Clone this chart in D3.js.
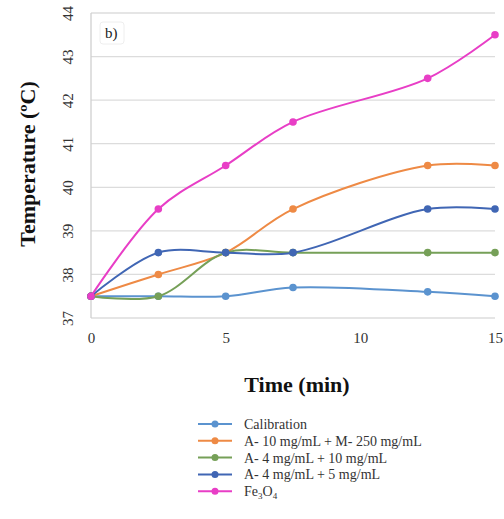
<!DOCTYPE html>
<html>
<head>
<meta charset="utf-8">
<script src="https://cdn.jsdelivr.net/npm/d3@7"></script>
<style>
  body { margin: 0; background: #fff; }
  svg { display: block; font-family: "Times New Roman", "Liberation Serif", serif; }
  .grid line { stroke: #dcdcdc; stroke-width: 1.3; }
  .axis path, .axis line { stroke: none; }
</style>
</head>
<body>
<script>
// data
var times = [0, 2.5, 5, 7.5, 12.5, 15];
var seriesNames = ["Calibration", "A- 10 mg/mL + M- 250 mg/mL", "A- 4 mg/mL + 10 mg/mL", "A- 4 mg/mL + 5 mg/mL", "Fe3O4"];
var calibration = [37.5, 37.5, 37.5, 37.7, 37.6, 37.5];
var a10m250     = [37.5, 38.0, 38.5, 39.5, 40.5, 40.5];
var a4m10       = [37.5, 37.5, 38.5, 38.5, 38.5, 38.5];
var a4m5        = [37.5, 38.5, 38.5, 38.5, 39.5, 39.5];
var fe3o4       = [37.5, 39.5, 40.5, 41.5, 42.5, 43.5];
var xTicks = [0, 5, 10, 15];
var yTicks = [37, 38, 39, 40, 41, 42, 43, 44];

var colors = ["#5b93cf", "#ee8a45", "#76a058", "#4066b4", "#e83ec6"];
var allSeries = [calibration, a10m250, a4m10, a4m5, fe3o4];

var width = 504, height = 519;
var serif = "'Times New Roman', 'Liberation Serif', serif";
var svg = d3.select("body").append("svg")
  .attr("width", width)
  .attr("height", height);

var x = d3.scaleLinear().domain([0, 15]).range([91, 495]);
var y = d3.scaleLinear().domain([37, 44]).range([318, 13]);

// gridlines
svg.append("g").attr("class", "grid")
  .selectAll("line").data(yTicks).enter().append("line")
  .attr("x1", x(0)).attr("x2", x(15))
  .attr("y1", d => y(d)).attr("y2", d => y(d));
svg.append("line")
  .attr("x1", x(0)).attr("x2", x(0))
  .attr("y1", y(44)).attr("y2", y(37))
  .attr("stroke", "#d0d0d0").attr("stroke-width", 1.3);

// axes
var yAxis = svg.append("g").attr("class", "axis")
  .attr("transform", "translate(" + x(0) + ",0)")
  .call(d3.axisLeft(y).tickValues(yTicks).tickFormat(d3.format("d")).tickSize(0).tickPadding(0));
yAxis.selectAll(".tick text")
  .attr("x", 0).attr("y", 0).attr("dy", 0)
  .attr("transform", "translate(-23,0) rotate(-90)")
  .attr("text-anchor", "middle")
  .attr("dominant-baseline", "central")
  .style("font-family", serif)
  .style("font-size", "15px")
  .style("fill", "#333");

var xAxis = svg.append("g").attr("class", "axis")
  .attr("transform", "translate(0," + y(37) + ")")
  .call(d3.axisBottom(x).tickValues(xTicks).tickSize(0).tickPadding(14));
xAxis.selectAll("text")
  .style("font-family", serif)
  .style("font-size", "15px")
  .style("fill", "#333");

// lines
var line = d3.line()
  .x((d, i) => x(times[i]))
  .y(d => y(d))
  .curve(d3.curveCatmullRom.alpha(0.5));

allSeries.forEach(function(s, k) {
  svg.append("path")
    .datum(s)
    .attr("fill", "none")
    .attr("stroke", colors[k])
    .attr("stroke-width", 2)
    .attr("d", line);
  svg.append("g").selectAll("circle").data(s).enter().append("circle")
    .attr("cx", (d, i) => x(times[i]))
    .attr("cy", d => y(d))
    .attr("r", 3.8)
    .attr("fill", colors[k]);
});

// panel label
svg.append("rect")
  .attr("x", 100).attr("y", 22).attr("width", 24).attr("height", 22)
  .attr("rx", 3)
  .attr("fill", "#fff").attr("stroke", "#eeeeee");
svg.append("text")
  .attr("x", 105).attr("y", 38)
  .style("font-size", "15px")
  .style("fill", "#222")
  .text("b)");

// axis titles
svg.append("text")
  .attr("transform", "translate(27,164) rotate(-90)")
  .attr("text-anchor", "middle")
  .attr("dominant-baseline", "central")
  .style("font-weight", "bold")
  .style("font-size", "22px")
  .style("fill", "#111")
  .text("Temperature (ºC)");

svg.append("text")
  .attr("x", 297).attr("y", 392)
  .attr("text-anchor", "middle")
  .style("font-weight", "bold")
  .style("font-size", "22px")
  .style("fill", "#111")
  .text("Time (min)");

// legend
var legend = svg.append("g").attr("transform", "translate(198,424)");
var rows = legend.selectAll("g").data(seriesNames).enter().append("g")
  .attr("transform", (d, i) => "translate(0," + (i * 16.8) + ")");
rows.append("line")
  .attr("x1", 0).attr("x2", 34)
  .attr("stroke", (d, i) => colors[i]).attr("stroke-width", 2);
rows.append("circle")
  .attr("cx", 17).attr("r", 3.5)
  .attr("fill", (d, i) => colors[i]);
var labels = rows.append("text")
  .attr("x", 46).attr("dy", "0.35em")
  .style("font-size", "14px")
  .style("fill", "#333");
labels.each(function(d) {
  var t = d3.select(this);
  if (d == "Fe3O4") {
    t.append("tspan").text("Fe");
    t.append("tspan").attr("dy", 3).style("font-size", "9px").text("3");
    t.append("tspan").attr("dy", -3).text("O");
    t.append("tspan").attr("dy", 3).style("font-size", "9px").text("4");
  } else {
    t.text(d);
  }
});
</script>
</body>
</html>
